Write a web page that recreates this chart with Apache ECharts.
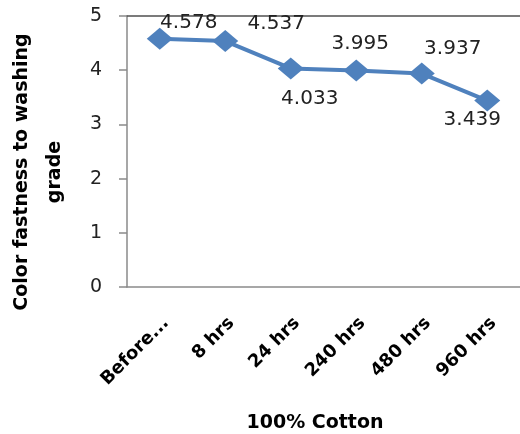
<!DOCTYPE html>
<html>
<head>
<meta charset="utf-8">
<script src="https://cdn.jsdelivr.net/npm/echarts@6/dist/echarts.min.js"></script>
<style>
  html, body { margin: 0; padding: 0; background: #fff; }
  #chart { width: 520px; height: 434px; }
</style>
</head>
<body>
<div id="chart"></div>
<script>
// Exposure stages and measured wash-fastness grades
const categories = ['Before...', '8 hrs', '24 hrs', '240 hrs', '480 hrs', '960 hrs'];
const grades = [4.578, 4.537, 4.033, 3.995, 3.937, 3.439];
const yTicks = [0, 1, 2, 3, 4, 5];

// Where each value label sits relative to its marker (px)
const labelOffsets = [[29, -16], [51, -17], [19, 30], [4, -27], [31, -25], [-15, 19]];

const FONT = 'DejaVu Sans';
const chart = echarts.init(document.getElementById('chart'));

chart.setOption({
  animation: false,
  grid: { left: 127, top: 16, width: 396, height: 271 },
  xAxis: [{
    type: 'category',
    data: categories,
    boundaryGap: true,
    axisLine: { lineStyle: { color: '#8a8a8a', width: 1.5 } },
    axisTick: { show: false },
    axisLabel: {
      rotate: 45,
      interval: 0,
      margin: 27,
      align: 'right',
      verticalAlign: 'top',
      color: '#000',
      fontFamily: FONT,
      fontWeight: 'bold',
      fontSize: 18
    }
  }, {
    type: 'category',
    data: categories,
    position: 'top',
    axisLine: { lineStyle: { color: '#505050', width: 1.5 } },
    axisTick: { show: false },
    axisLabel: { show: false }
  }],
  yAxis: {
    type: 'value',
    min: yTicks[0],
    max: yTicks[yTicks.length - 1],
    interval: 1,
    axisLine: { show: true, lineStyle: { color: '#8a8a8a', width: 1.5 } },
    axisTick: { show: true, length: 8, lineStyle: { color: '#8a8a8a', width: 1.5 } },
    splitLine: { show: false },
    axisLabel: {
      margin: 25,
      color: '#222',
      fontFamily: FONT,
      fontSize: 19
    }
  },
  series: [{
    type: 'line',
    data: grades.map((v, i) => ({
      value: v,
      label: { offset: labelOffsets[i] }
    })),
    symbol: 'diamond',
    symbolSize: [26, 22],
    itemStyle: { color: '#4F81BD' },
    lineStyle: { color: '#4F81BD', width: 4 },
    label: {
      show: true,
      position: 'inside',
      color: '#222',
      fontFamily: FONT,
      fontSize: 20,
      formatter: p => p.value.toFixed(3)
    }
  }],
  graphic: [{
    type: 'text',
    x: 315,
    y: 423,
    style: {
      text: '100% Cotton',
      font: 'bold 19px "' + FONT + '"',
      fill: '#000',
      align: 'center',
      verticalAlign: 'middle'
    }
  }, {
    type: 'text',
    x: 39,
    y: 172,
    rotation: Math.PI / 2,
    style: {
      text: 'Color fastness to washing\ngrade',
      font: 'bold 19px "' + FONT + '"',
      lineHeight: 33,
      fill: '#000',
      align: 'center',
      verticalAlign: 'middle'
    }
  }]
});
</script>
</body>
</html>
